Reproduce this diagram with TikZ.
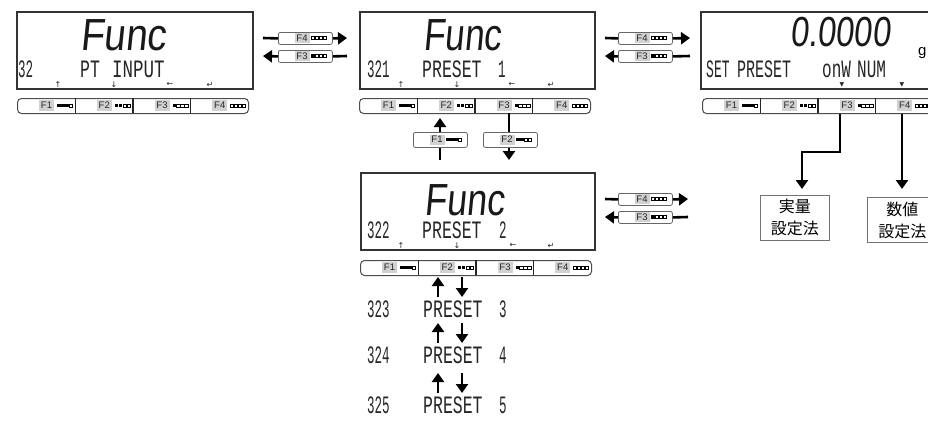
\documentclass[tikz,border=0pt]{standalone}
\usepackage{fontspec}
\setmainfont{Liberation Sans}
\newfontfamily\lcdfont{Liberation Mono}
\newfontfamily\bigfont[FakeSlant=0.12]{Liberation Sans}
\newfontfamily\symfont{DejaVu Sans}
\newfontfamily\jpfont{Noto Sans CJK JP}
\newfontfamily\keyfont{Liberation Sans}
\usetikzlibrary{arrows.meta,calc}

\tikzset{
  lcd/.style={draw=black!80, line width=1.5pt, minimum width=236pt, minimum height=77pt, anchor=north west, inner sep=0pt},
  kbar/.style={draw=black!70, line width=1pt, rounded corners=4pt, minimum width=231pt, minimum height=15pt, anchor=north west, inner sep=0pt},
  kseg/.style={minimum width=57.75pt, minimum height=15pt, anchor=north west, inner sep=0pt},
  klabel/.style={fill=black!18, font=\keyfont\fontsize{9.5}{9.5}\selectfont, text=black!85, minimum width=15pt, minimum height=11pt, inner sep=0pt},
  skey/.style={draw=black!60, line width=0.8pt, rounded corners=2pt, minimum width=54pt, anchor=north west, inner sep=0pt},
  lcdt/.style={font=\lcdfont\fontsize{25}{25}\selectfont, anchor=base west, inner sep=0pt, text=black!85},
  bigt/.style={font=\bigfont\fontsize{45}{45}\selectfont, anchor=base west, inner sep=0pt, text=black!90},
  mk/.style={font=\symfont\fontsize{8}{8}\selectfont, inner sep=0pt, text=black!85},
  arr/.style={line width=2.6pt, -{Triangle[length=9pt,width=12pt]}},
  ln/.style={line width=2.6pt},
  jbox/.style={draw=black!55, line width=0.9pt, minimum height=45pt, anchor=north west, align=center, inner sep=0pt, font=\jpfont\fontsize{16}{22}\selectfont}
}

\newcommand{\kicon}[3]{%
  \foreach \j in {1,...,4}{%
    \pgfmathsetmacro\xx{#1+(\j-1)*4}%
    \ifnum\j>#3\relax
      \draw[line width=0.5pt] (\xx,#2-1.7) rectangle ++(3.3,3.4);
    \else
      \fill (\xx,#2-1.8) rectangle ++(3.7,3.6);
    \fi
  }%
}

\newcommand{\mykeybar}[3]{%
  \node[kbar] (#1) at (#2,#3) {};
  \foreach \i/\n in {1/3,2/2,3/1,4/0}{%
    \node[kseg] (#1f\i) at ({#2+(\i-1)*57.75},#3) {};
    \node[klabel] (#1l\i) at ({#2+(\i-1)*57.75+29.5},{#3+7.5}) {F\i};
    \kicon{#2+(\i-1)*57.75+40}{#3+7.5}{\n}
  }
  \foreach \i in {1,2,3}{%
    \draw[line width=1.3pt, black!85] (#1f\i.north east) -- (#1f\i.south east);
  }
}

% name, x, y, height, label, nfilled
\newcommand{\smallkey}[6]{%
  \node[skey, minimum height=#4pt] (#1) at (#2,#3) {};
  \node[klabel, minimum height=10pt] (#1l) at ({#2+24},{#3+#4/2}) {#5};
  \kicon{#2+33}{#3+#4/2}{#6}
}

\begin{document}
\begin{tikzpicture}[x=1pt,y=-1pt]
\useasboundingbox (0,0) rectangle (928,421);
\clip (0,0) rectangle (928,421);
\fill[white] (0,0) rectangle (928,421);

% ---------- display 1 ----------
\node[lcd] (d1) at (16,11) {};
\node[bigt] (d1big) at (80,50) {\scalebox{0.86}[1]{Func}};
\node[lcdt] (d1a) at (18,77) {\scalebox{0.5}[1]{32}};
\node[lcdt] (d1b) at (80,77) {\scalebox{0.66}[1]{PT}};
\node[lcdt] (d1c) at (112,77) {\scalebox{0.7}[1]{INPUT}};
\node[mk] (d1m1) at (58,84.5) {↑};
\node[mk] (d1m2) at (114,84.5) {↓};
\node[mk] (d1m3) at (170,84.5) {←};
\node[mk] (d1m4) at (210,84.5) {↵};
\mykeybar{kb1}{17}{98}

% ---------- display 2 ----------
\node[lcd, minimum width=235pt] (d2) at (359,11) {};
\node[bigt] (d2big) at (423,50) {\scalebox{0.78}[1]{Func}};
\node[lcdt] (d2a) at (367,77) {\scalebox{0.5}[1]{321}};
\node[lcdt] (d2b) at (422,77) {\scalebox{0.66}[1]{PRESET}};
\node[lcdt] (d2c) at (498,77) {\scalebox{0.5}[1]{1}};
\node[mk] (d2m1) at (401,84.5) {↑};
\node[mk] (d2m2) at (457,84.5) {↓};
\node[mk] (d2m3) at (512,84.5) {←};
\node[mk] (d2m4) at (551,84.5) {↵};
\mykeybar{kb2}{359}{98}

% ---------- display 3 ----------
\node[lcd, minimum width=240pt] (d3) at (700,11) {};
\node[bigt, font=\bigfont\fontsize{42}{42}\selectfont] (d3big) at (790,46) {\scalebox{0.78}[1]{0.0000}};
\node[anchor=base west, inner sep=0pt, font=\fontsize{15}{15}\selectfont] (d3g) at (918,55) {g};
\node[lcdt] (d3a) at (706,77) {\scalebox{0.52}[1]{SET}};
\node[lcdt] (d3b) at (737,77) {\scalebox{0.6}[1]{PRESET}};
\node[lcdt] (d3c) at (822,77) {\scalebox{0.64}[1]{onW}};
\node[lcdt] (d3d) at (857,77) {\scalebox{0.64}[1]{NUM}};
\node[mk, font=\symfont\fontsize{6}{6}\selectfont] (d3m1) at (842,85) {▼};
\node[mk, font=\symfont\fontsize{6}{6}\selectfont] (d3m2) at (902,85) {▼};
\mykeybar{kb3}{702}{98}

% ---------- display 4 ----------
\node[lcd, minimum width=234pt] (d4) at (360,172) {};
\node[bigt] (d4big) at (424,215) {\scalebox{0.8}[1]{Func}};
\node[lcdt] (d4a) at (367,238.5) {\scalebox{0.5}[1]{322}};
\node[lcdt] (d4b) at (422,238.5) {\scalebox{0.66}[1]{PRESET}};
\node[lcdt] (d4c) at (499,238.5) {\scalebox{0.5}[1]{2}};
\node[mk] (d4m1) at (401,245.5) {↑};
\node[mk] (d4m2) at (457,245.5) {↓};
\node[mk] (d4m3) at (513,245.5) {←};
\node[mk] (d4m4) at (551,245.5) {↵};
\mykeybar{kb4}{360}{260}

% ---------- list below ----------
\node[lcdt] (p3a) at (367,317) {\scalebox{0.5}[1]{323}};
\node[lcdt] (p3b) at (423,317) {\scalebox{0.66}[1]{PRESET}};
\node[lcdt] (p3c) at (499,317) {\scalebox{0.5}[1]{3}};
\node[lcdt] (p4a) at (367,363) {\scalebox{0.5}[1]{324}};
\node[lcdt] (p4b) at (423,363) {\scalebox{0.66}[1]{PRESET}};
\node[lcdt] (p4c) at (499,363) {\scalebox{0.5}[1]{4}};
\node[lcdt] (p5a) at (367,413) {\scalebox{0.5}[1]{325}};
\node[lcdt] (p5b) at (423,413) {\scalebox{0.66}[1]{PRESET}};
\node[lcdt] (p5c) at (499,413) {\scalebox{0.5}[1]{5}};

% ---------- small keys ----------
\smallkey{sk1}{278}{32}{12}{F4}{0}
\smallkey{sk2}{278}{50}{12}{F3}{1}
\smallkey{sk3}{618}{32}{12}{F4}{0}
\smallkey{sk4}{618}{50}{12}{F3}{1}
\smallkey{sk5}{413}{132}{15}{F1}{3}
\smallkey{sk6}{483}{132}{15}{F2}{2}
\smallkey{sk7}{618}{193}{12}{F4}{0}
\smallkey{sk8}{618}{211}{12}{F3}{1}

% ---------- coordinates ----------
\coordinate (a1) at (263,38);  \coordinate (a2) at (347,38);
\coordinate (a3) at (263,56);  \coordinate (a4) at (347,56);
\coordinate (b1) at (605,38);  \coordinate (b2) at (690,38);
\coordinate (b3) at (605,56);  \coordinate (b4) at (690,56);
\coordinate (c1) at (605,199); \coordinate (c2) at (688,199);
\coordinate (c3) at (605,217); \coordinate (c4) at (688,217);
\coordinate (v1) at (440,160); \coordinate (v2) at (440,118);
\coordinate (v3) at (509,113); \coordinate (v4) at (509,160);

% ---------- connectors ----------
\draw[ln] (a1) -- (sk1.west);  \draw[arr] (sk1.east) -- (a2);
\draw[arr] (sk2.west) -- (a3);  \draw[ln] (sk2.east) -- (a4);
\draw[ln] (b1) -- (sk3.west);  \draw[arr] (sk3.east) -- (b2);
\draw[arr] (sk4.west) -- (b3);  \draw[ln] (sk4.east) -- (b4);
\draw[ln] (c1) -- (sk7.west);  \draw[arr] (sk7.east) -- (c2);
\draw[arr] (sk8.west) -- (c3);  \draw[ln] (sk8.east) -- (c4);

\draw[ln] (v1) -- (v1 |- sk5.south);
\draw[arr] (v2 |- sk5.north) -- (v2);
\draw[ln] (v3) -- (v3 |- sk6.north);
\draw[arr] (v3 |- sk6.south) -- (v4);

% arrows between list items
\foreach \ya/\yb [count=\k] in {277/297, 323/343, 373/393}{
  \coordinate (u\k a) at (438,\yb); \coordinate (u\k b) at (438,\ya);
  \coordinate (w\k a) at (462,\ya); \coordinate (w\k b) at (462,\yb);
  \draw[arr] (u\k a) -- (u\k b);
  \draw[arr] (w\k a) -- (w\k b);
}

% ---------- right side ----------
\node[jbox, minimum width=69pt] (j1) at (760,195) {実量\\設定法};
\node[jbox, minimum width=70pt] (j2) at (867,197) {数値\\設定法};
\coordinate (r1) at (840,114);
\coordinate (r2) at (902,114);
\coordinate (r3) at (802,152);
\coordinate (r4) at (802,189);
\coordinate (r5) at (902,189);
\draw[arr] (r1) |- (r3) -- (r4);
\draw[arr] (r2) -- (r5);
\end{tikzpicture}
\end{document}
